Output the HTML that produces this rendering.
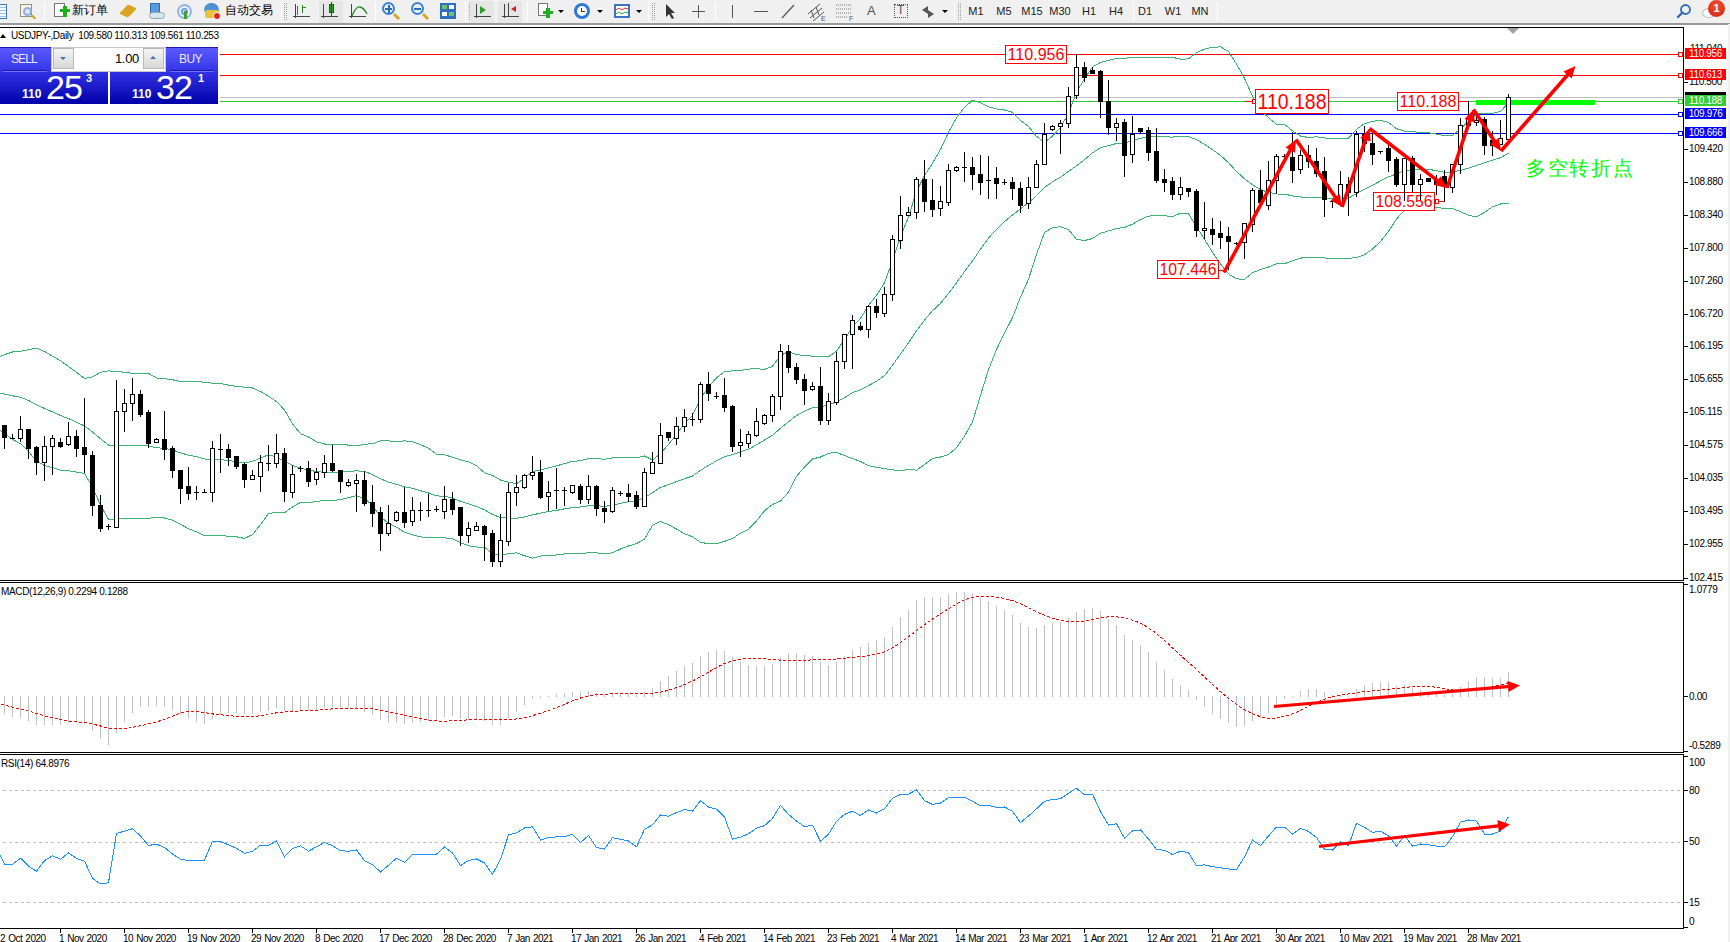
<!DOCTYPE html><html><head><meta charset="utf-8"><style>
*{margin:0;padding:0;box-sizing:border-box}
html,body{width:1730px;height:942px;overflow:hidden;background:#fff;font-family:"Liberation Sans",sans-serif}
.abs{position:absolute}
#tb{position:absolute;left:0;top:0;width:1730px;height:25px;background:#f0f0f0;border-bottom:2px solid #9a9a9a}
.tt{position:absolute;top:2px;font-size:12px;color:#000;white-space:nowrap}
.sep{position:absolute;top:2px;width:1px;height:19px;background:#b4b4b4;border-right:1px solid #fff}
.grip{position:absolute;top:3px;width:3px;height:17px;border-left:1px dotted #a0a0a0;border-right:1px dotted #a0a0a0}
.tf{position:absolute;top:5px;font-size:11px;color:#222;white-space:nowrap}
.ax{position:absolute;font-size:10px;color:#000;white-space:nowrap;line-height:11px;letter-spacing:-0.35px}
.plab{position:absolute;left:1685px;width:41px;height:11px;font-size:10px;line-height:11px;color:#fff;text-align:center;letter-spacing:-0.35px}
</style></head><body>

<div id="tb">
<div class="abs" style="left:0;top:4px;width:7px;height:15px;border:1px solid #3b74c4;border-left:none;background:repeating-linear-gradient(#fff 0 2px,#9cc0ee 2px 3px)"></div>
<div class="abs" style="left:20px;top:4px;width:12px;height:13px;border:1px solid #9a8f7a;background:#f6f3ee"></div><div class="abs" style="left:23px;top:7px;width:9px;height:9px;border:2px solid #8ab0e0;border-radius:50%;background:#dde8f4"></div><div class="abs" style="left:31px;top:16px;width:5px;height:2px;background:#c9a227;transform:rotate(45deg)"></div>
<div class="sep" style="left:44px"></div>
<div class="abs" style="left:54px;top:3px;width:11px;height:14px;border:1px solid #777;background:#fff"></div><div class="abs" style="left:60px;top:9px;width:10px;height:3px;background:#1fae1f"></div><div class="abs" style="left:63px;top:6px;width:4px;height:11px;background:#1fae1f"></div>
<div class="tt" style="left:72px">新订单</div>
<div class="abs" style="left:122px;top:6px;width:12px;height:10px;background:#d9a520;transform:skewX(-30deg) rotate(20deg);border-radius:2px"></div>
<div class="abs" style="left:150px;top:3px;width:10px;height:10px;background:#5a9be0;border:1px solid #2d6cb5"></div><div class="abs" style="left:149px;top:12px;width:16px;height:7px;background:#d8e4f0;border:1px solid #8aa;border-radius:4px"></div>
<div class="abs" style="left:177px;top:4px;width:15px;height:15px;border:2px solid #8fb6e8;border-radius:50%"></div><div class="abs" style="left:181px;top:8px;width:7px;height:7px;border:2px solid #6aa0dd;border-radius:50%"></div><div class="abs" style="left:184px;top:11px;width:3px;height:8px;background:#3aa03a"></div>
<div class="abs" style="left:204px;top:3px;width:15px;height:9px;background:#4d90d8;border-radius:7px 7px 2px 2px"></div><div class="abs" style="left:205px;top:10px;width:14px;height:8px;background:#e8c23a;border-radius:2px"></div><div class="abs" style="left:213px;top:12px;width:8px;height:8px;background:#e02020;border-radius:50%;border:1px solid #fff"></div>
<div class="tt" style="left:225px">自动交易</div>
<div class="sep" style="left:281px"></div><div class="grip" style="left:284px"></div>
<div class="abs" style="left:295px;top:4px;width:1px;height:14px;background:#444"></div><div class="abs" style="left:293px;top:16px;width:17px;height:1px;background:#444"></div>
<div class="abs" style="left:323px;top:4px;width:1px;height:14px;background:#444"></div><div class="abs" style="left:321px;top:16px;width:17px;height:1px;background:#444"></div>
<div class="abs" style="left:351px;top:4px;width:1px;height:14px;background:#444"></div><div class="abs" style="left:349px;top:16px;width:17px;height:1px;background:#444"></div>
<div class="abs" style="left:297px;top:6px;width:1px;height:9px;background:#2a8a2a"></div><div class="abs" style="left:302px;top:5px;width:1px;height:8px;background:#2a8a2a"></div><div class="abs" style="left:302px;top:7px;width:4px;height:1px;background:#2a8a2a"></div>
<div class="abs" style="left:319px;top:1px;width:24px;height:22px;background:#e6e6e6"></div><div class="abs" style="left:323px;top:4px;width:1px;height:14px;background:#444"></div><div class="abs" style="left:321px;top:16px;width:17px;height:1px;background:#444"></div><div class="abs" style="left:329px;top:4px;width:5px;height:9px;background:#2aa02a;border:1px solid #1a601a"></div><div class="abs" style="left:331px;top:2px;width:1px;height:14px;background:#1a601a"></div>
<svg class="abs" style="left:350px;top:3px" width="20" height="16"><path d="M2 13 Q6 3 10 4 T17 11" stroke="#2a8a2a" fill="none" stroke-width="1.3"/></svg>
<div class="sep" style="left:375px"></div>
<div class="abs" style="left:382px;top:2px;width:13px;height:13px;border:2px solid #3d82d0;border-radius:50%;background:#e8f2fc"></div><div class="abs" style="left:393px;top:15px;width:7px;height:3px;background:#d4a62a;transform:rotate(45deg)"></div><div class="abs" style="left:385px;top:8px;width:7px;height:2px;background:#2d6cb5"></div><div class="abs" style="left:388px;top:5px;width:2px;height:8px;background:#2d6cb5"></div>
<div class="abs" style="left:411px;top:2px;width:13px;height:13px;border:2px solid #3d82d0;border-radius:50%;background:#e8f2fc"></div><div class="abs" style="left:422px;top:15px;width:7px;height:3px;background:#d4a62a;transform:rotate(45deg)"></div><div class="abs" style="left:414px;top:8px;width:7px;height:2px;background:#2d6cb5"></div>
<div class="abs" style="left:440px;top:3px;width:16px;height:16px;background:#2e6ec0"></div><div class="abs" style="left:442px;top:5px;width:5px;height:4px;background:#6cc36c"></div><div class="abs" style="left:449px;top:5px;width:5px;height:4px;background:#fff"></div><div class="abs" style="left:442px;top:12px;width:5px;height:4px;background:#fff"></div><div class="abs" style="left:449px;top:12px;width:5px;height:4px;background:#6cc36c"></div>
<div class="sep" style="left:465px"></div><div class="grip" style="left:469px"></div>
<div class="abs" style="left:470px;top:1px;width:24px;height:22px;background:#e6e6e6"></div><div class="abs" style="left:476px;top:4px;width:1px;height:14px;background:#444"></div><div class="abs" style="left:474px;top:16px;width:17px;height:1px;background:#444"></div><div class="abs" style="left:480px;top:6px;width:0;height:0;border-left:6px solid #2aa02a;border-top:4px solid transparent;border-bottom:4px solid transparent"></div>
<div class="abs" style="left:498px;top:1px;width:24px;height:22px;background:#e6e6e6"></div><div class="abs" style="left:504px;top:4px;width:1px;height:14px;background:#444"></div><div class="abs" style="left:502px;top:16px;width:17px;height:1px;background:#444"></div><div class="abs" style="left:508px;top:3px;width:1px;height:14px;background:#444"></div><div class="abs" style="left:511px;top:6px;width:0;height:0;border-right:5px solid #d02020;border-top:3px solid transparent;border-bottom:3px solid transparent"></div>
<div class="sep" style="left:527px"></div>
<div class="abs" style="left:538px;top:3px;width:10px;height:13px;border:1px solid #777;background:#fff"></div><div class="abs" style="left:543px;top:11px;width:10px;height:3px;background:#1fae1f"></div><div class="abs" style="left:546px;top:8px;width:4px;height:10px;background:#1fae1f"></div>
<div class="abs" style="left:558px;top:10px;width:0;height:0;border-left:3px solid transparent;border-right:3px solid transparent;border-top:3px solid #000"></div>
<div class="abs" style="left:574px;top:3px;width:16px;height:16px;border-radius:50%;background:#2f78cf"></div><div class="abs" style="left:577px;top:6px;width:10px;height:10px;border-radius:50%;background:#fff"></div><div class="abs" style="left:581px;top:8px;width:1px;height:4px;background:#333"></div><div class="abs" style="left:581px;top:11px;width:4px;height:1px;background:#333"></div>
<div class="abs" style="left:597px;top:10px;width:0;height:0;border-left:3px solid transparent;border-right:3px solid transparent;border-top:3px solid #000"></div>
<div class="abs" style="left:614px;top:4px;width:16px;height:14px;border:2px solid #3d74c0;background:#fff"></div><svg class="abs" style="left:616px;top:6px" width="12" height="10"><path d="M0 4 L3 2 L6 4 L9 2 L12 3" stroke="#d03030" fill="none"/><path d="M0 8 L3 6 L6 8 L9 6 L12 7" stroke="#30a030" fill="none"/></svg>
<div class="abs" style="left:636px;top:10px;width:0;height:0;border-left:3px solid transparent;border-right:3px solid transparent;border-top:3px solid #000"></div>
<div class="sep" style="left:648px"></div><div class="grip" style="left:652px"></div>
<svg class="abs" style="left:663px;top:3px" width="14" height="17"><path d="M3 1 L3 14 L6 11 L9 16 L11 15 L8 10 L12 10 Z" fill="#333"/></svg>
<div class="abs" style="left:698px;top:5px;width:1px;height:13px;background:#555"></div><div class="abs" style="left:692px;top:11px;width:13px;height:1px;background:#555"></div>
<div class="sep" style="left:715px"></div>
<div class="abs" style="left:732px;top:5px;width:1px;height:13px;background:#555"></div>
<div class="abs" style="left:754px;top:11px;width:14px;height:1px;background:#555"></div>
<svg class="abs" style="left:780px;top:3px" width="16" height="17"><path d="M2 15 L14 2" stroke="#555" stroke-width="1.2"/></svg>
<svg class="abs" style="left:806px;top:2px" width="22" height="20"><path d="M2 12 L14 2 M4 16 L16 6 M7 19 L18 10 M5 8 L8 16 M10 5 L13 13" stroke="#555" fill="none"/><text x="15" y="19" font-size="7" fill="#555">E</text></svg>
<svg class="abs" style="left:834px;top:2px" width="22" height="20"><path d="M2 3 H18 M2 7 H18 M2 11 H18 M2 15 H14" stroke="#777" stroke-dasharray="1 1" fill="none"/><text x="15" y="19" font-size="7" fill="#555">F</text></svg>
<div class="tt" style="left:867px;top:3px;font-size:13px;color:#555">A</div>
<div class="abs" style="left:894px;top:4px;width:14px;height:14px;border:1px dotted #555"></div><div class="tt" style="left:897px;top:3px;font-size:12px;color:#555">T</div>
<svg class="abs" style="left:920px;top:4px" width="16" height="16"><path d="M2 6 L8 2 L8 10 Z M14 10 L8 14 L8 6 Z" fill="#555"/></svg>
<div class="abs" style="left:942px;top:10px;width:0;height:0;border-left:3px solid transparent;border-right:3px solid transparent;border-top:3px solid #000"></div>
<div class="sep" style="left:954px"></div><div class="grip" style="left:958px"></div>
<div class="tf" style="left:946px;width:60px;text-align:center">M1</div>
<div class="tf" style="left:974px;width:60px;text-align:center">M5</div>
<div class="tf" style="left:1002px;width:60px;text-align:center">M15</div>
<div class="tf" style="left:1030px;width:60px;text-align:center">M30</div>
<div class="tf" style="left:1059px;width:60px;text-align:center">H1</div>
<div class="tf" style="left:1086px;width:60px;text-align:center">H4</div>
<div class="tf" style="left:1115px;width:60px;text-align:center">D1</div>
<div class="tf" style="left:1143px;width:60px;text-align:center">W1</div>
<div class="tf" style="left:1170px;width:60px;text-align:center">MN</div>
<div class="sep" style="left:1133px"></div><div class="sep" style="left:1217px"></div>
<svg class="abs" style="left:1675px;top:2px" width="18" height="18"><circle cx="10.5" cy="7.5" r="4.5" fill="none" stroke="#2d6cb5" stroke-width="1.8"/><path d="M7.5 10.5 L3 15" stroke="#2d6cb5" stroke-width="2.4" stroke-linecap="round"/></svg>
<div class="abs" style="left:1702px;top:8px;width:14px;height:10px;background:#fff;border:1px solid #bbb;border-radius:50%"></div><div class="abs" style="left:1708px;top:0px;width:17px;height:17px;background:radial-gradient(circle at 50% 30%,#f05030,#d22010);border-radius:50%;color:#fff;font-size:11px;text-align:center;line-height:17px;font-weight:bold">1</div>
</div>
<svg class="abs" style="left:0;top:0" width="1730" height="942" shape-rendering="crispEdges">
<g stroke="#000" stroke-width="1" fill="none">
<path d="M0 27.5 H1683.5 V580.5 H0"/>
<path d="M0 582.5 H1683.5 V752.5 H0"/>
<path d="M0 754.5 H1683.5 V928.5 H0"/>
</g>
<rect x="1728" y="24" width="2" height="918" fill="#f0f0f0"/>
<rect x="1684" y="82" width="4" height="1" fill="#000"/>
<rect x="1684" y="149" width="4" height="1" fill="#000"/>
<rect x="1684" y="182" width="4" height="1" fill="#000"/>
<rect x="1684" y="215" width="4" height="1" fill="#000"/>
<rect x="1684" y="248" width="4" height="1" fill="#000"/>
<rect x="1684" y="281" width="4" height="1" fill="#000"/>
<rect x="1684" y="314" width="4" height="1" fill="#000"/>
<rect x="1684" y="346" width="4" height="1" fill="#000"/>
<rect x="1684" y="379" width="4" height="1" fill="#000"/>
<rect x="1684" y="412" width="4" height="1" fill="#000"/>
<rect x="1684" y="445" width="4" height="1" fill="#000"/>
<rect x="1684" y="478" width="4" height="1" fill="#000"/>
<rect x="1684" y="511" width="4" height="1" fill="#000"/>
<rect x="1684" y="544" width="4" height="1" fill="#000"/>
<rect x="1684" y="578" width="4" height="1" fill="#000"/>
</svg>
<div class="ax" style="left:1689px;top:76px">110.500</div>
<div class="ax" style="left:1689px;top:143px">109.420</div>
<div class="ax" style="left:1689px;top:176px">108.880</div>
<div class="ax" style="left:1689px;top:209px">108.340</div>
<div class="ax" style="left:1689px;top:242px">107.800</div>
<div class="ax" style="left:1689px;top:275px">107.260</div>
<div class="ax" style="left:1689px;top:308px">106.720</div>
<div class="ax" style="left:1689px;top:340px">106.195</div>
<div class="ax" style="left:1689px;top:373px">105.655</div>
<div class="ax" style="left:1689px;top:406px">105.115</div>
<div class="ax" style="left:1689px;top:439px">104.575</div>
<div class="ax" style="left:1689px;top:472px">104.035</div>
<div class="ax" style="left:1689px;top:505px">103.495</div>
<div class="ax" style="left:1689px;top:538px">102.955</div>
<div class="ax" style="left:1689px;top:572px">102.415</div>
<div class="ax" style="left:1690px;top:43px">111.040</div>
<svg class="abs" style="left:0;top:28px" width="1683" height="552" viewBox="0 28 1683 552" shape-rendering="crispEdges">
<rect x="0" y="54" width="1683" height="1" fill="#ff0000"/>
<rect x="0" y="75" width="1683" height="1" fill="#ff0000"/>
<rect x="0" y="97" width="1683" height="1" fill="#c0c0c0"/>
<rect x="0" y="101" width="1683" height="1" fill="#32cd32"/>
<rect x="0" y="114" width="1683" height="1" fill="#0000ff"/>
<rect x="0" y="133" width="1683" height="1" fill="#0000ff"/>
<polyline points="-3.5,357.6 4.5,354.7 12.5,352.0 20.5,351.3 28.5,349.6 36.5,348.1 44.5,351.5 52.5,356.1 60.5,360.8 68.5,366.5 76.5,372.3 84.5,378.6 92.5,376.9 100.5,372.3 108.5,370.9 116.5,371.5 124.5,372.3 132.5,373.3 140.5,373.4 148.5,373.5 156.5,378.0 164.5,378.7 172.5,379.8 180.5,381.5 188.5,381.6 196.5,381.4 204.5,382.3 212.5,383.2 220.5,383.4 228.5,385.2 236.5,386.3 244.5,387.2 252.5,388.0 260.5,391.5 268.5,396.1 276.5,401.6 284.5,409.9 292.5,423.8 300.5,433.7 308.5,437.0 316.5,441.8 324.5,444.0 332.5,444.0 340.5,444.3 348.5,445.1 356.5,445.9 364.5,444.2 372.5,443.8 380.5,440.8 388.5,440.8 396.5,441.7 404.5,440.8 412.5,441.7 420.5,444.7 428.5,448.1 436.5,454.3 444.5,454.7 452.5,457.3 460.5,459.9 468.5,461.7 476.5,465.8 484.5,472.7 492.5,475.5 500.5,480.0 508.5,482.1 516.5,483.8 524.5,478.1 532.5,471.5 540.5,470.0 548.5,467.8 556.5,465.8 564.5,463.7 572.5,461.4 580.5,460.7 588.5,458.7 596.5,458.6 604.5,459.3 612.5,457.9 620.5,457.6 628.5,457.4 636.5,457.8 644.5,456.0 652.5,460.0 660.5,453.5 668.5,444.5 676.5,434.2 684.5,423.7 692.5,415.3 700.5,398.6 708.5,387.1 716.5,377.8 724.5,371.8 732.5,370.8 740.5,370.4 748.5,369.1 756.5,368.7 764.5,369.4 772.5,366.3 780.5,355.5 788.5,351.5 796.5,354.6 804.5,355.6 812.5,356.1 820.5,356.6 828.5,356.8 836.5,351.0 844.5,339.7 852.5,326.7 860.5,318.4 868.5,305.4 876.5,295.4 884.5,282.8 892.5,260.9 900.5,237.0 908.5,216.7 916.5,191.4 924.5,175.6 932.5,163.1 940.5,149.5 948.5,132.3 956.5,117.9 964.5,107.2 972.5,100.3 980.5,102.8 988.5,106.8 996.5,108.9 1004.5,110.0 1012.5,112.3 1020.5,120.6 1028.5,126.5 1036.5,136.3 1044.5,142.5 1052.5,136.1 1060.5,127.6 1068.5,113.3 1076.5,92.3 1084.5,78.7 1092.5,67.1 1100.5,62.4 1108.5,60.4 1116.5,58.3 1124.5,58.3 1132.5,57.5 1140.5,57.1 1148.5,57.7 1156.5,57.9 1164.5,57.9 1172.5,57.3 1180.5,59.2 1188.5,58.9 1196.5,52.6 1204.5,49.2 1212.5,47.2 1220.5,46.9 1228.5,51.5 1236.5,64.1 1244.5,78.3 1252.5,96.5 1260.5,110.0 1268.5,117.7 1276.5,124.3 1284.5,124.4 1292.5,130.8 1300.5,136.0 1308.5,137.6 1316.5,136.8 1324.5,138.0 1332.5,138.4 1340.5,138.1 1348.5,138.2 1356.5,129.3 1364.5,123.6 1372.5,121.4 1380.5,120.3 1388.5,122.5 1396.5,128.7 1404.5,131.2 1412.5,131.4 1420.5,132.8 1428.5,132.8 1436.5,134.1 1444.5,135.6 1452.5,135.2 1460.5,129.0 1468.5,121.1 1476.5,114.2 1484.5,113.3 1492.5,113.3 1500.5,111.5 1508.5,102.7" fill="none" stroke="#3cb371" stroke-width="1" shape-rendering="crispEdges" />
<polyline points="-3.5,392.9 4.5,394.1 12.5,395.8 20.5,397.4 28.5,400.5 36.5,404.7 44.5,408.5 52.5,411.8 60.5,415.5 68.5,418.6 76.5,422.2 84.5,426.0 92.5,432.0 100.5,438.8 108.5,445.1 116.5,445.3 124.5,445.5 132.5,445.8 140.5,445.8 148.5,445.9 156.5,447.7 164.5,448.4 172.5,449.9 180.5,452.9 188.5,455.1 196.5,456.6 204.5,459.0 212.5,459.5 220.5,459.6 228.5,460.6 236.5,461.6 244.5,462.8 252.5,461.3 260.5,458.0 268.5,454.8 276.5,456.9 284.5,461.3 292.5,465.4 300.5,468.1 308.5,470.0 316.5,471.6 324.5,472.3 332.5,472.3 340.5,471.9 348.5,471.4 356.5,470.8 364.5,471.4 372.5,474.6 380.5,478.8 388.5,482.1 396.5,484.4 404.5,486.6 412.5,488.3 420.5,490.7 428.5,493.0 436.5,495.9 444.5,496.3 452.5,498.0 460.5,501.4 468.5,503.7 476.5,506.4 484.5,509.9 492.5,514.5 500.5,517.5 508.5,518.0 516.5,518.3 524.5,516.9 532.5,514.9 540.5,513.1 548.5,511.5 556.5,510.4 564.5,508.8 572.5,507.6 580.5,507.0 588.5,505.8 596.5,505.8 604.5,506.3 612.5,505.4 620.5,503.3 628.5,501.7 636.5,500.7 644.5,497.6 652.5,492.6 660.5,487.4 668.5,484.6 676.5,481.6 684.5,478.7 692.5,476.0 700.5,470.4 708.5,465.4 716.5,460.8 724.5,456.6 732.5,454.7 740.5,451.8 748.5,449.2 756.5,444.8 764.5,440.0 772.5,435.3 780.5,428.3 788.5,421.8 796.5,415.5 804.5,411.3 812.5,407.6 820.5,406.8 828.5,405.0 836.5,401.8 844.5,397.6 852.5,392.6 860.5,389.9 868.5,385.6 876.5,381.3 884.5,375.7 892.5,365.3 900.5,354.0 908.5,342.9 916.5,330.8 924.5,320.1 932.5,310.7 940.5,303.3 948.5,293.4 956.5,282.8 964.5,271.6 972.5,261.0 980.5,249.1 988.5,238.1 996.5,229.2 1004.5,221.6 1012.5,215.0 1020.5,208.8 1028.5,202.9 1036.5,195.5 1044.5,187.5 1052.5,181.8 1060.5,177.2 1068.5,171.4 1076.5,165.8 1084.5,159.6 1092.5,152.8 1100.5,147.8 1108.5,145.6 1116.5,143.5 1124.5,142.9 1132.5,140.9 1140.5,138.3 1148.5,136.9 1156.5,136.8 1164.5,136.8 1172.5,137.1 1180.5,136.1 1188.5,136.4 1196.5,139.7 1204.5,144.4 1212.5,149.7 1220.5,155.4 1228.5,162.7 1236.5,171.5 1244.5,178.8 1252.5,184.7 1260.5,189.7 1268.5,192.3 1276.5,194.0 1284.5,194.1 1292.5,195.9 1300.5,197.0 1308.5,197.5 1316.5,197.1 1324.5,198.0 1332.5,198.3 1340.5,198.2 1348.5,198.2 1356.5,193.5 1364.5,189.2 1372.5,185.2 1380.5,180.9 1388.5,176.9 1396.5,173.9 1404.5,170.7 1412.5,170.3 1420.5,169.2 1428.5,169.3 1436.5,170.7 1444.5,172.2 1452.5,171.9 1460.5,170.3 1468.5,168.2 1476.5,165.6 1484.5,162.8 1492.5,160.1 1500.5,157.7 1508.5,153.0" fill="none" stroke="#3cb371" stroke-width="1" shape-rendering="crispEdges" />
<polyline points="-3.5,428.2 4.5,433.5 12.5,439.5 20.5,443.6 28.5,451.4 36.5,461.2 44.5,465.5 52.5,467.6 60.5,470.3 68.5,470.7 76.5,472.1 84.5,473.4 92.5,487.2 100.5,505.2 108.5,519.3 116.5,519.1 124.5,518.7 132.5,518.3 140.5,518.2 148.5,518.3 156.5,517.5 164.5,518.0 172.5,520.1 180.5,524.3 188.5,528.7 196.5,531.9 204.5,535.6 212.5,535.7 220.5,535.8 228.5,536.1 236.5,536.8 244.5,538.4 252.5,534.6 260.5,524.5 268.5,513.6 276.5,512.3 284.5,512.8 292.5,506.9 300.5,502.4 308.5,502.9 316.5,501.4 324.5,500.6 332.5,500.6 340.5,499.6 348.5,497.7 356.5,495.7 364.5,498.5 372.5,505.4 380.5,516.8 388.5,523.4 396.5,527.1 404.5,532.3 412.5,534.9 420.5,536.7 428.5,538.0 436.5,537.4 444.5,537.8 452.5,538.7 460.5,542.8 468.5,545.7 476.5,547.0 484.5,547.2 492.5,553.5 500.5,554.9 508.5,553.8 516.5,552.8 524.5,555.7 532.5,558.2 540.5,556.1 548.5,555.2 556.5,555.0 564.5,553.9 572.5,553.7 580.5,553.3 588.5,552.9 596.5,552.9 604.5,553.4 612.5,552.9 620.5,549.0 628.5,546.0 636.5,543.6 644.5,539.2 652.5,525.3 660.5,521.3 668.5,524.8 676.5,529.0 684.5,533.7 692.5,536.8 700.5,542.2 708.5,543.8 716.5,543.7 724.5,541.4 732.5,538.5 740.5,533.2 748.5,529.3 756.5,521.0 764.5,510.7 772.5,504.4 780.5,501.0 788.5,492.1 796.5,476.3 804.5,467.1 812.5,459.0 820.5,457.0 828.5,453.2 836.5,452.5 844.5,455.5 852.5,458.6 860.5,461.4 868.5,465.7 876.5,467.3 884.5,468.6 892.5,469.8 900.5,471.0 908.5,469.1 916.5,470.2 924.5,464.6 932.5,458.4 940.5,457.0 948.5,454.5 956.5,447.7 964.5,436.1 972.5,421.8 980.5,395.5 988.5,369.4 996.5,349.5 1004.5,333.2 1012.5,317.7 1020.5,297.0 1028.5,279.2 1036.5,254.6 1044.5,232.4 1052.5,227.5 1060.5,226.8 1068.5,229.5 1076.5,239.3 1084.5,240.5 1092.5,238.5 1100.5,233.2 1108.5,230.9 1116.5,228.6 1124.5,227.4 1132.5,224.2 1140.5,219.5 1148.5,216.1 1156.5,215.6 1164.5,215.6 1172.5,216.8 1180.5,213.1 1188.5,213.8 1196.5,226.7 1204.5,239.5 1212.5,252.3 1220.5,264.0 1228.5,273.9 1236.5,278.9 1244.5,279.3 1252.5,272.8 1260.5,269.4 1268.5,267.0 1276.5,263.7 1284.5,263.7 1292.5,260.9 1300.5,258.1 1308.5,257.4 1316.5,257.5 1324.5,258.0 1332.5,258.3 1340.5,258.3 1348.5,258.3 1356.5,257.6 1364.5,254.8 1372.5,249.0 1380.5,241.5 1388.5,231.2 1396.5,219.1 1404.5,210.1 1412.5,209.3 1420.5,205.6 1428.5,205.7 1436.5,207.2 1444.5,208.7 1452.5,208.5 1460.5,211.7 1468.5,215.3 1476.5,216.9 1484.5,212.4 1492.5,206.8 1500.5,204.0 1508.5,203.3" fill="none" stroke="#3cb371" stroke-width="1" shape-rendering="crispEdges" />
</svg>
<svg class="abs" style="left:0;top:583px" width="1683" height="169" viewBox="0 583 1683 169" shape-rendering="crispEdges">
<rect x="4" y="696" width="1" height="18" fill="#c0c0c0"/>
<rect x="12" y="696" width="1" height="21" fill="#c0c0c0"/>
<rect x="20" y="696" width="1" height="22" fill="#c0c0c0"/>
<rect x="28" y="696" width="1" height="25" fill="#c0c0c0"/>
<rect x="36" y="696" width="1" height="29" fill="#c0c0c0"/>
<rect x="44" y="696" width="1" height="29" fill="#c0c0c0"/>
<rect x="52" y="696" width="1" height="29" fill="#c0c0c0"/>
<rect x="60" y="696" width="1" height="29" fill="#c0c0c0"/>
<rect x="68" y="696" width="1" height="27" fill="#c0c0c0"/>
<rect x="76" y="696" width="1" height="27" fill="#c0c0c0"/>
<rect x="84" y="696" width="1" height="28" fill="#c0c0c0"/>
<rect x="92" y="696" width="1" height="35" fill="#c0c0c0"/>
<rect x="100" y="696" width="1" height="43" fill="#c0c0c0"/>
<rect x="108" y="696" width="1" height="49" fill="#c0c0c0"/>
<rect x="116" y="696" width="1" height="37" fill="#c0c0c0"/>
<rect x="124" y="696" width="1" height="26" fill="#c0c0c0"/>
<rect x="132" y="696" width="1" height="17" fill="#c0c0c0"/>
<rect x="140" y="696" width="1" height="11" fill="#c0c0c0"/>
<rect x="148" y="696" width="1" height="11" fill="#c0c0c0"/>
<rect x="156" y="696" width="1" height="10" fill="#c0c0c0"/>
<rect x="164" y="696" width="1" height="11" fill="#c0c0c0"/>
<rect x="172" y="696" width="1" height="14" fill="#c0c0c0"/>
<rect x="180" y="696" width="1" height="19" fill="#c0c0c0"/>
<rect x="188" y="696" width="1" height="23" fill="#c0c0c0"/>
<rect x="196" y="696" width="1" height="26" fill="#c0c0c0"/>
<rect x="204" y="696" width="1" height="28" fill="#c0c0c0"/>
<rect x="212" y="696" width="1" height="23" fill="#c0c0c0"/>
<rect x="220" y="696" width="1" height="19" fill="#c0c0c0"/>
<rect x="228" y="696" width="1" height="17" fill="#c0c0c0"/>
<rect x="236" y="696" width="1" height="17" fill="#c0c0c0"/>
<rect x="244" y="696" width="1" height="18" fill="#c0c0c0"/>
<rect x="252" y="696" width="1" height="18" fill="#c0c0c0"/>
<rect x="260" y="696" width="1" height="16" fill="#c0c0c0"/>
<rect x="268" y="696" width="1" height="15" fill="#c0c0c0"/>
<rect x="276" y="696" width="1" height="12" fill="#c0c0c0"/>
<rect x="284" y="696" width="1" height="15" fill="#c0c0c0"/>
<rect x="292" y="696" width="1" height="15" fill="#c0c0c0"/>
<rect x="300" y="696" width="1" height="14" fill="#c0c0c0"/>
<rect x="308" y="696" width="1" height="14" fill="#c0c0c0"/>
<rect x="316" y="696" width="1" height="14" fill="#c0c0c0"/>
<rect x="324" y="696" width="1" height="12" fill="#c0c0c0"/>
<rect x="332" y="696" width="1" height="11" fill="#c0c0c0"/>
<rect x="340" y="696" width="1" height="12" fill="#c0c0c0"/>
<rect x="348" y="696" width="1" height="12" fill="#c0c0c0"/>
<rect x="356" y="696" width="1" height="12" fill="#c0c0c0"/>
<rect x="364" y="696" width="1" height="16" fill="#c0c0c0"/>
<rect x="372" y="696" width="1" height="19" fill="#c0c0c0"/>
<rect x="380" y="696" width="1" height="24" fill="#c0c0c0"/>
<rect x="388" y="696" width="1" height="27" fill="#c0c0c0"/>
<rect x="396" y="696" width="1" height="27" fill="#c0c0c0"/>
<rect x="404" y="696" width="1" height="28" fill="#c0c0c0"/>
<rect x="412" y="696" width="1" height="27" fill="#c0c0c0"/>
<rect x="420" y="696" width="1" height="26" fill="#c0c0c0"/>
<rect x="428" y="696" width="1" height="25" fill="#c0c0c0"/>
<rect x="436" y="696" width="1" height="24" fill="#c0c0c0"/>
<rect x="444" y="696" width="1" height="21" fill="#c0c0c0"/>
<rect x="452" y="696" width="1" height="20" fill="#c0c0c0"/>
<rect x="460" y="696" width="1" height="23" fill="#c0c0c0"/>
<rect x="468" y="696" width="1" height="24" fill="#c0c0c0"/>
<rect x="476" y="696" width="1" height="24" fill="#c0c0c0"/>
<rect x="484" y="696" width="1" height="25" fill="#c0c0c0"/>
<rect x="492" y="696" width="1" height="29" fill="#c0c0c0"/>
<rect x="500" y="696" width="1" height="29" fill="#c0c0c0"/>
<rect x="508" y="696" width="1" height="22" fill="#c0c0c0"/>
<rect x="516" y="696" width="1" height="16" fill="#c0c0c0"/>
<rect x="524" y="696" width="1" height="9" fill="#c0c0c0"/>
<rect x="532" y="696" width="1" height="3" fill="#c0c0c0"/>
<rect x="540" y="696" width="1" height="2" fill="#c0c0c0"/>
<rect x="548" y="696" width="1" height="1" fill="#c0c0c0"/>
<rect x="556" y="694" width="1" height="3" fill="#c0c0c0"/>
<rect x="564" y="693" width="1" height="4" fill="#c0c0c0"/>
<rect x="572" y="692" width="1" height="5" fill="#c0c0c0"/>
<rect x="580" y="692" width="1" height="5" fill="#c0c0c0"/>
<rect x="588" y="691" width="1" height="6" fill="#c0c0c0"/>
<rect x="596" y="693" width="1" height="4" fill="#c0c0c0"/>
<rect x="604" y="695" width="1" height="2" fill="#c0c0c0"/>
<rect x="612" y="694" width="1" height="3" fill="#c0c0c0"/>
<rect x="620" y="694" width="1" height="3" fill="#c0c0c0"/>
<rect x="628" y="694" width="1" height="3" fill="#c0c0c0"/>
<rect x="636" y="695" width="1" height="2" fill="#c0c0c0"/>
<rect x="644" y="692" width="1" height="5" fill="#c0c0c0"/>
<rect x="652" y="688" width="1" height="9" fill="#c0c0c0"/>
<rect x="660" y="681" width="1" height="16" fill="#c0c0c0"/>
<rect x="668" y="676" width="1" height="21" fill="#c0c0c0"/>
<rect x="676" y="671" width="1" height="26" fill="#c0c0c0"/>
<rect x="684" y="666" width="1" height="31" fill="#c0c0c0"/>
<rect x="692" y="663" width="1" height="34" fill="#c0c0c0"/>
<rect x="700" y="656" width="1" height="41" fill="#c0c0c0"/>
<rect x="708" y="652" width="1" height="45" fill="#c0c0c0"/>
<rect x="716" y="650" width="1" height="47" fill="#c0c0c0"/>
<rect x="724" y="651" width="1" height="46" fill="#c0c0c0"/>
<rect x="732" y="657" width="1" height="40" fill="#c0c0c0"/>
<rect x="740" y="662" width="1" height="35" fill="#c0c0c0"/>
<rect x="748" y="665" width="1" height="32" fill="#c0c0c0"/>
<rect x="756" y="666" width="1" height="31" fill="#c0c0c0"/>
<rect x="764" y="666" width="1" height="31" fill="#c0c0c0"/>
<rect x="772" y="664" width="1" height="33" fill="#c0c0c0"/>
<rect x="780" y="657" width="1" height="40" fill="#c0c0c0"/>
<rect x="788" y="653" width="1" height="44" fill="#c0c0c0"/>
<rect x="796" y="653" width="1" height="44" fill="#c0c0c0"/>
<rect x="804" y="655" width="1" height="42" fill="#c0c0c0"/>
<rect x="812" y="656" width="1" height="41" fill="#c0c0c0"/>
<rect x="820" y="662" width="1" height="35" fill="#c0c0c0"/>
<rect x="828" y="665" width="1" height="32" fill="#c0c0c0"/>
<rect x="836" y="662" width="1" height="35" fill="#c0c0c0"/>
<rect x="844" y="656" width="1" height="41" fill="#c0c0c0"/>
<rect x="852" y="650" width="1" height="47" fill="#c0c0c0"/>
<rect x="860" y="647" width="1" height="50" fill="#c0c0c0"/>
<rect x="868" y="643" width="1" height="54" fill="#c0c0c0"/>
<rect x="876" y="640" width="1" height="57" fill="#c0c0c0"/>
<rect x="884" y="637" width="1" height="60" fill="#c0c0c0"/>
<rect x="892" y="627" width="1" height="70" fill="#c0c0c0"/>
<rect x="900" y="617" width="1" height="80" fill="#c0c0c0"/>
<rect x="908" y="610" width="1" height="87" fill="#c0c0c0"/>
<rect x="916" y="600" width="1" height="97" fill="#c0c0c0"/>
<rect x="924" y="597" width="1" height="100" fill="#c0c0c0"/>
<rect x="932" y="597" width="1" height="100" fill="#c0c0c0"/>
<rect x="940" y="597" width="1" height="100" fill="#c0c0c0"/>
<rect x="948" y="594" width="1" height="103" fill="#c0c0c0"/>
<rect x="956" y="592" width="1" height="105" fill="#c0c0c0"/>
<rect x="964" y="592" width="1" height="105" fill="#c0c0c0"/>
<rect x="972" y="594" width="1" height="103" fill="#c0c0c0"/>
<rect x="980" y="597" width="1" height="100" fill="#c0c0c0"/>
<rect x="988" y="601" width="1" height="96" fill="#c0c0c0"/>
<rect x="996" y="606" width="1" height="91" fill="#c0c0c0"/>
<rect x="1004" y="610" width="1" height="87" fill="#c0c0c0"/>
<rect x="1012" y="615" width="1" height="82" fill="#c0c0c0"/>
<rect x="1020" y="623" width="1" height="74" fill="#c0c0c0"/>
<rect x="1028" y="627" width="1" height="70" fill="#c0c0c0"/>
<rect x="1036" y="628" width="1" height="69" fill="#c0c0c0"/>
<rect x="1044" y="625" width="1" height="72" fill="#c0c0c0"/>
<rect x="1052" y="623" width="1" height="74" fill="#c0c0c0"/>
<rect x="1060" y="622" width="1" height="75" fill="#c0c0c0"/>
<rect x="1068" y="618" width="1" height="79" fill="#c0c0c0"/>
<rect x="1076" y="612" width="1" height="85" fill="#c0c0c0"/>
<rect x="1084" y="609" width="1" height="88" fill="#c0c0c0"/>
<rect x="1092" y="608" width="1" height="89" fill="#c0c0c0"/>
<rect x="1100" y="611" width="1" height="86" fill="#c0c0c0"/>
<rect x="1108" y="619" width="1" height="78" fill="#c0c0c0"/>
<rect x="1116" y="625" width="1" height="72" fill="#c0c0c0"/>
<rect x="1124" y="635" width="1" height="62" fill="#c0c0c0"/>
<rect x="1132" y="640" width="1" height="57" fill="#c0c0c0"/>
<rect x="1140" y="645" width="1" height="52" fill="#c0c0c0"/>
<rect x="1148" y="652" width="1" height="45" fill="#c0c0c0"/>
<rect x="1156" y="662" width="1" height="35" fill="#c0c0c0"/>
<rect x="1164" y="670" width="1" height="27" fill="#c0c0c0"/>
<rect x="1172" y="679" width="1" height="18" fill="#c0c0c0"/>
<rect x="1180" y="685" width="1" height="12" fill="#c0c0c0"/>
<rect x="1188" y="690" width="1" height="7" fill="#c0c0c0"/>
<rect x="1196" y="696" width="1" height="4" fill="#c0c0c0"/>
<rect x="1204" y="696" width="1" height="11" fill="#c0c0c0"/>
<rect x="1212" y="696" width="1" height="18" fill="#c0c0c0"/>
<rect x="1220" y="696" width="1" height="23" fill="#c0c0c0"/>
<rect x="1228" y="696" width="1" height="27" fill="#c0c0c0"/>
<rect x="1236" y="696" width="1" height="31" fill="#c0c0c0"/>
<rect x="1244" y="696" width="1" height="30" fill="#c0c0c0"/>
<rect x="1252" y="696" width="1" height="25" fill="#c0c0c0"/>
<rect x="1260" y="696" width="1" height="22" fill="#c0c0c0"/>
<rect x="1268" y="696" width="1" height="17" fill="#c0c0c0"/>
<rect x="1276" y="696" width="1" height="9" fill="#c0c0c0"/>
<rect x="1284" y="696" width="1" height="3" fill="#c0c0c0"/>
<rect x="1292" y="696" width="1" height="1" fill="#c0c0c0"/>
<rect x="1300" y="691" width="1" height="6" fill="#c0c0c0"/>
<rect x="1308" y="689" width="1" height="8" fill="#c0c0c0"/>
<rect x="1316" y="689" width="1" height="8" fill="#c0c0c0"/>
<rect x="1324" y="692" width="1" height="5" fill="#c0c0c0"/>
<rect x="1332" y="695" width="1" height="2" fill="#c0c0c0"/>
<rect x="1340" y="695" width="1" height="2" fill="#c0c0c0"/>
<rect x="1348" y="696" width="1" height="1" fill="#c0c0c0"/>
<rect x="1356" y="689" width="1" height="8" fill="#c0c0c0"/>
<rect x="1364" y="685" width="1" height="12" fill="#c0c0c0"/>
<rect x="1372" y="683" width="1" height="14" fill="#c0c0c0"/>
<rect x="1380" y="682" width="1" height="15" fill="#c0c0c0"/>
<rect x="1388" y="682" width="1" height="15" fill="#c0c0c0"/>
<rect x="1396" y="686" width="1" height="11" fill="#c0c0c0"/>
<rect x="1404" y="685" width="1" height="12" fill="#c0c0c0"/>
<rect x="1412" y="688" width="1" height="9" fill="#c0c0c0"/>
<rect x="1420" y="690" width="1" height="7" fill="#c0c0c0"/>
<rect x="1428" y="692" width="1" height="5" fill="#c0c0c0"/>
<rect x="1436" y="694" width="1" height="3" fill="#c0c0c0"/>
<rect x="1444" y="695" width="1" height="2" fill="#c0c0c0"/>
<rect x="1452" y="694" width="1" height="3" fill="#c0c0c0"/>
<rect x="1460" y="687" width="1" height="10" fill="#c0c0c0"/>
<rect x="1468" y="681" width="1" height="16" fill="#c0c0c0"/>
<rect x="1476" y="677" width="1" height="20" fill="#c0c0c0"/>
<rect x="1484" y="677" width="1" height="20" fill="#c0c0c0"/>
<rect x="1492" y="678" width="1" height="19" fill="#c0c0c0"/>
<rect x="1500" y="678" width="1" height="19" fill="#c0c0c0"/>
<rect x="1508" y="672" width="1" height="25" fill="#c0c0c0"/>
<polyline points="-3.5,703.3 4.5,705.2 12.5,707.2 20.5,709.1 28.5,711.1 36.5,713.4 44.5,715.9 52.5,718.0 60.5,719.5 68.5,720.9 76.5,721.9 84.5,722.6 92.5,724.0 100.5,726.0 108.5,728.2 116.5,729.0 124.5,728.8 132.5,727.4 140.5,725.7 148.5,723.9 156.5,722.0 164.5,719.4 172.5,716.2 180.5,712.9 188.5,711.3 196.5,711.3 204.5,712.5 212.5,713.9 220.5,714.8 228.5,715.6 236.5,716.3 244.5,716.7 252.5,716.6 260.5,715.8 268.5,714.6 276.5,712.8 284.5,711.9 292.5,711.3 300.5,710.9 308.5,710.7 316.5,710.2 324.5,709.5 332.5,708.9 340.5,708.6 348.5,708.6 356.5,708.3 364.5,708.4 372.5,709.0 380.5,710.1 388.5,711.6 396.5,713.4 404.5,715.3 412.5,717.1 420.5,718.6 428.5,720.0 436.5,721.0 444.5,721.2 452.5,720.7 460.5,720.3 468.5,719.9 476.5,719.4 484.5,719.1 492.5,719.4 500.5,719.8 508.5,719.6 516.5,719.0 524.5,717.7 532.5,715.6 540.5,713.2 548.5,710.6 556.5,707.8 564.5,704.4 572.5,700.8 580.5,698.0 588.5,695.9 596.5,694.6 604.5,694.3 612.5,693.9 620.5,693.7 628.5,693.7 636.5,693.9 644.5,693.9 652.5,693.4 660.5,692.2 668.5,690.3 676.5,687.6 684.5,684.5 692.5,681.1 700.5,676.9 708.5,672.2 716.5,667.6 724.5,663.5 732.5,660.8 740.5,659.2 748.5,658.5 756.5,658.4 764.5,658.7 772.5,659.6 780.5,660.1 788.5,660.4 796.5,660.7 804.5,660.4 812.5,659.8 820.5,659.6 828.5,659.5 836.5,659.0 844.5,658.1 852.5,657.4 860.5,656.7 868.5,655.6 876.5,653.9 884.5,651.8 892.5,647.8 900.5,642.5 908.5,636.7 916.5,630.6 924.5,624.7 932.5,619.1 940.5,614.0 948.5,608.8 956.5,603.9 964.5,599.9 972.5,597.4 980.5,596.0 988.5,596.1 996.5,597.1 1004.5,598.5 1012.5,600.6 1020.5,603.9 1028.5,607.8 1036.5,611.8 1044.5,615.3 1052.5,618.1 1060.5,620.4 1068.5,621.7 1076.5,621.9 1084.5,621.2 1092.5,619.5 1100.5,617.8 1108.5,616.8 1116.5,616.8 1124.5,618.1 1132.5,620.1 1140.5,623.2 1148.5,627.7 1156.5,633.5 1164.5,640.4 1172.5,647.9 1180.5,655.2 1188.5,662.5 1196.5,669.6 1204.5,677.0 1212.5,684.5 1220.5,691.8 1228.5,698.5 1236.5,704.6 1244.5,709.8 1252.5,713.7 1260.5,716.8 1268.5,718.2 1276.5,718.0 1284.5,716.4 1292.5,713.9 1300.5,710.4 1308.5,706.4 1316.5,702.3 1324.5,699.2 1332.5,696.7 1340.5,694.8 1348.5,693.9 1356.5,692.9 1364.5,691.7 1372.5,690.8 1380.5,690.0 1388.5,689.3 1396.5,688.6 1404.5,687.5 1412.5,686.7 1420.5,686.0 1428.5,686.3 1436.5,687.3 1444.5,688.6 1452.5,690.0 1460.5,690.5 1468.5,690.1 1476.5,689.2 1484.5,688.0 1492.5,686.7 1500.5,685.1 1508.5,682.7" fill="none" stroke="#ff0000" stroke-width="1" shape-rendering="crispEdges" stroke-dasharray="3 2"/>
</svg>
<div class="ax" style="left:1689px;top:584px">1.0779</div>
<div class="ax" style="left:1689px;top:691px">0.00</div>
<div class="ax" style="left:1689px;top:740px">-0.5289</div>
<svg class="abs" style="left:1684px;top:580px" width="6" height="350" shape-rendering="crispEdges">
<rect x="0" y="4" width="4" height="1" fill="#000"/>
<rect x="0" y="116" width="4" height="1" fill="#000"/>
<rect x="0" y="171" width="4" height="1" fill="#000"/>
<rect x="0" y="176" width="4" height="1" fill="#000"/>
<rect x="0" y="210" width="4" height="1" fill="#000"/>
<rect x="0" y="261" width="4" height="1" fill="#000"/>
<rect x="0" y="322" width="4" height="1" fill="#000"/>
<rect x="0" y="347" width="4" height="1" fill="#000"/>
</svg>
<svg class="abs" style="left:0;top:755px" width="1683" height="173" viewBox="0 755 1683 173">
<line x1="3" y1="790.5" x2="1683" y2="790.5" stroke="#c0c0c0" stroke-dasharray="3 3" shape-rendering="crispEdges"/>
<line x1="3" y1="842.5" x2="1683" y2="842.5" stroke="#c0c0c0" stroke-dasharray="3 3" shape-rendering="crispEdges"/>
<line x1="3" y1="902.5" x2="1683" y2="902.5" stroke="#c0c0c0" stroke-dasharray="3 3" shape-rendering="crispEdges"/>
<polyline points="-3.5,848.1 4.5,864.0 12.5,864.4 20.5,858.2 28.5,866.2 36.5,871.3 44.5,860.7 52.5,855.7 60.5,859.3 68.5,852.9 76.5,858.5 84.5,861.1 92.5,878.4 100.5,884.0 108.5,882.7 116.5,833.4 124.5,831.2 132.5,828.7 140.5,836.0 148.5,845.5 156.5,844.2 164.5,847.5 172.5,854.0 180.5,859.2 188.5,860.6 196.5,860.1 204.5,860.1 212.5,841.2 220.5,841.6 228.5,844.8 236.5,848.3 244.5,853.3 252.5,851.3 260.5,845.1 268.5,845.5 276.5,840.6 284.5,856.8 292.5,848.5 300.5,845.8 308.5,851.2 316.5,846.7 324.5,842.4 332.5,845.7 340.5,850.8 348.5,851.2 356.5,850.0 364.5,860.6 372.5,864.7 380.5,871.9 388.5,865.2 396.5,858.2 404.5,862.4 412.5,854.8 420.5,854.8 428.5,854.8 436.5,854.1 444.5,847.0 452.5,852.9 460.5,865.7 468.5,860.5 476.5,859.0 484.5,863.0 492.5,874.3 500.5,859.4 508.5,834.9 516.5,832.8 524.5,828.0 532.5,826.8 540.5,840.0 548.5,837.7 556.5,836.8 564.5,836.8 572.5,834.2 580.5,842.6 588.5,835.5 596.5,847.5 604.5,849.0 612.5,837.6 620.5,839.3 628.5,841.0 636.5,846.8 644.5,829.2 652.5,824.9 660.5,815.0 668.5,816.3 676.5,812.5 684.5,809.6 692.5,811.1 700.5,800.7 708.5,807.0 716.5,809.2 724.5,816.9 732.5,839.1 740.5,837.3 748.5,833.7 756.5,828.2 764.5,825.7 772.5,818.4 780.5,805.3 788.5,814.5 796.5,821.0 804.5,826.7 812.5,825.2 820.5,841.5 828.5,834.1 836.5,821.3 844.5,814.4 852.5,811.2 860.5,815.5 868.5,810.0 876.5,813.0 884.5,808.7 892.5,798.2 900.5,794.6 908.5,794.2 916.5,789.7 924.5,800.6 932.5,804.5 940.5,803.0 948.5,797.6 956.5,797.1 964.5,797.1 972.5,801.2 980.5,805.9 988.5,805.4 996.5,807.3 1004.5,807.0 1012.5,811.2 1020.5,822.5 1028.5,816.0 1036.5,808.8 1044.5,801.3 1052.5,799.5 1060.5,798.8 1068.5,793.2 1076.5,788.3 1084.5,794.9 1092.5,794.1 1100.5,811.6 1108.5,825.0 1116.5,823.7 1124.5,838.2 1132.5,830.9 1140.5,829.9 1148.5,839.0 1156.5,849.5 1164.5,850.2 1172.5,854.5 1180.5,851.2 1188.5,852.7 1196.5,865.8 1204.5,864.8 1212.5,866.7 1220.5,867.7 1228.5,869.0 1236.5,869.7 1244.5,856.9 1252.5,840.1 1260.5,845.5 1268.5,835.9 1276.5,827.0 1284.5,827.0 1292.5,834.1 1300.5,828.3 1308.5,831.4 1316.5,837.5 1324.5,849.2 1332.5,850.1 1340.5,841.8 1348.5,845.5 1356.5,823.2 1364.5,827.4 1372.5,832.4 1380.5,831.3 1388.5,835.7 1396.5,846.2 1404.5,835.7 1412.5,846.1 1420.5,844.0 1428.5,844.8 1436.5,846.1 1444.5,847.0 1452.5,836.6 1460.5,822.2 1468.5,820.0 1476.5,821.1 1484.5,834.0 1492.5,834.0 1500.5,831.1 1508.5,816.7" fill="none" stroke="#1e90ff" stroke-width="1" shape-rendering="crispEdges" />
</svg>
<div class="ax" style="left:1689px;top:757px">100</div>
<div class="ax" style="left:1689px;top:785px">80</div>
<div class="ax" style="left:1689px;top:836px">50</div>
<div class="ax" style="left:1689px;top:897px">15</div>
<div class="ax" style="left:1689px;top:916px">0</div>
<svg class="abs" style="left:0;top:928px" width="1683" height="6" shape-rendering="crispEdges">
<rect x="60" y="1" width="1" height="4" fill="#000"/>
<rect x="124" y="1" width="1" height="4" fill="#000"/>
<rect x="188" y="1" width="1" height="4" fill="#000"/>
<rect x="252" y="1" width="1" height="4" fill="#000"/>
<rect x="316" y="1" width="1" height="4" fill="#000"/>
<rect x="380" y="1" width="1" height="4" fill="#000"/>
<rect x="444" y="1" width="1" height="4" fill="#000"/>
<rect x="508" y="1" width="1" height="4" fill="#000"/>
<rect x="572" y="1" width="1" height="4" fill="#000"/>
<rect x="636" y="1" width="1" height="4" fill="#000"/>
<rect x="700" y="1" width="1" height="4" fill="#000"/>
<rect x="764" y="1" width="1" height="4" fill="#000"/>
<rect x="828" y="1" width="1" height="4" fill="#000"/>
<rect x="892" y="1" width="1" height="4" fill="#000"/>
<rect x="956" y="1" width="1" height="4" fill="#000"/>
<rect x="1020" y="1" width="1" height="4" fill="#000"/>
<rect x="1084" y="1" width="1" height="4" fill="#000"/>
<rect x="1148" y="1" width="1" height="4" fill="#000"/>
<rect x="1212" y="1" width="1" height="4" fill="#000"/>
<rect x="1276" y="1" width="1" height="4" fill="#000"/>
<rect x="1340" y="1" width="1" height="4" fill="#000"/>
<rect x="1404" y="1" width="1" height="4" fill="#000"/>
<rect x="1468" y="1" width="1" height="4" fill="#000"/>
</svg>
<div class="ax" style="left:0px;top:933px;letter-spacing:-0.55px;word-spacing:1px">2 Oct 2020</div>
<div class="ax" style="left:59px;top:933px;letter-spacing:-0.55px;word-spacing:1px">1 Nov 2020</div>
<div class="ax" style="left:123px;top:933px;letter-spacing:-0.55px;word-spacing:1px">10 Nov 2020</div>
<div class="ax" style="left:187px;top:933px;letter-spacing:-0.55px;word-spacing:1px">19 Nov 2020</div>
<div class="ax" style="left:251px;top:933px;letter-spacing:-0.55px;word-spacing:1px">29 Nov 2020</div>
<div class="ax" style="left:315px;top:933px;letter-spacing:-0.55px;word-spacing:1px">8 Dec 2020</div>
<div class="ax" style="left:379px;top:933px;letter-spacing:-0.55px;word-spacing:1px">17 Dec 2020</div>
<div class="ax" style="left:443px;top:933px;letter-spacing:-0.55px;word-spacing:1px">28 Dec 2020</div>
<div class="ax" style="left:507px;top:933px;letter-spacing:-0.55px;word-spacing:1px">7 Jan 2021</div>
<div class="ax" style="left:571px;top:933px;letter-spacing:-0.55px;word-spacing:1px">17 Jan 2021</div>
<div class="ax" style="left:635px;top:933px;letter-spacing:-0.55px;word-spacing:1px">26 Jan 2021</div>
<div class="ax" style="left:699px;top:933px;letter-spacing:-0.55px;word-spacing:1px">4 Feb 2021</div>
<div class="ax" style="left:763px;top:933px;letter-spacing:-0.55px;word-spacing:1px">14 Feb 2021</div>
<div class="ax" style="left:827px;top:933px;letter-spacing:-0.55px;word-spacing:1px">23 Feb 2021</div>
<div class="ax" style="left:891px;top:933px;letter-spacing:-0.55px;word-spacing:1px">4 Mar 2021</div>
<div class="ax" style="left:955px;top:933px;letter-spacing:-0.55px;word-spacing:1px">14 Mar 2021</div>
<div class="ax" style="left:1019px;top:933px;letter-spacing:-0.55px;word-spacing:1px">23 Mar 2021</div>
<div class="ax" style="left:1083px;top:933px;letter-spacing:-0.55px;word-spacing:1px">1 Apr 2021</div>
<div class="ax" style="left:1147px;top:933px;letter-spacing:-0.55px;word-spacing:1px">12 Apr 2021</div>
<div class="ax" style="left:1211px;top:933px;letter-spacing:-0.55px;word-spacing:1px">21 Apr 2021</div>
<div class="ax" style="left:1275px;top:933px;letter-spacing:-0.55px;word-spacing:1px">30 Apr 2021</div>
<div class="ax" style="left:1339px;top:933px;letter-spacing:-0.55px;word-spacing:1px">10 May 2021</div>
<div class="ax" style="left:1403px;top:933px;letter-spacing:-0.55px;word-spacing:1px">19 May 2021</div>
<div class="ax" style="left:1467px;top:933px;letter-spacing:-0.55px;word-spacing:1px">28 May 2021</div>
<svg class="abs" style="left:0;top:33px" width="8" height="6"><polygon points="0,5 3,1 6,5" fill="#000"/></svg>
<div class="ax" style="left:11px;top:30px;font-size:10px">USDJPY-,Daily&nbsp; 109.580 110.313 109.561 110.253</div>
<div class="ax" style="left:1px;top:586px">MACD(12,26,9) 0.2294 0.1288</div>
<div class="ax" style="left:1px;top:758px">RSI(14) 64.8976</div>
<div class="plab" style="top:48px;background:#ff0000">110.956</div>
<div class="plab" style="top:69px;background:#ff0000">110.613</div>
<div class="plab" style="top:92px;background:#000000"></div>
<div class="plab" style="top:95px;background:#32cd32">110.188</div>
<div class="plab" style="top:108px;background:#0000ff">109.976</div>
<div class="plab" style="top:127px;background:#0000ff">109.666</div>
<svg class="abs" style="left:1676px;top:40px" width="10" height="110" shape-rendering="crispEdges">
<rect x="2.5" y="12.5" width="4" height="4" fill="#fff" stroke="#ff0000"/>
<rect x="2.5" y="33.5" width="4" height="4" fill="#fff" stroke="#ff0000"/>
<rect x="2.5" y="59.5" width="4" height="4" fill="#fff" stroke="#32cd32"/>
<rect x="2.5" y="72.5" width="4" height="4" fill="#fff" stroke="#0000ff"/>
<rect x="2.5" y="91.5" width="4" height="4" fill="#fff" stroke="#0000ff"/>
</svg>
<svg class="abs" style="left:0;top:28px" width="1683" height="552" viewBox="0 28 1683 552">
<g shape-rendering="crispEdges">
<rect x="1245" y="101" width="8" height="1" fill="#ff0000"/><rect x="1252.5" y="99.5" width="3" height="4" fill="#fff" stroke="#ff0000"/>
<rect x="1459" y="101" width="10" height="1" fill="#ff0000"/>
<rect x="1218" y="270" width="7" height="1" fill="#ff0000"/>
<rect x="1435" y="201" width="9" height="1" fill="#ff0000"/><rect x="1435.5" y="199.5" width="3" height="4" fill="#fff" stroke="#ff0000"/>
<rect x="1476" y="100" width="119" height="5" fill="#00ff00"/>
</g>
</svg>
<svg class="abs" style="left:1005px;top:45px" width="62" height="19"><rect x="0.5" y="0.5" width="61" height="18" fill="#fff" stroke="#ff0000" shape-rendering="crispEdges"/><text x="31.0" y="15.4" font-family="Liberation Sans" font-size="16.5" fill="#ff0000" text-anchor="middle" textLength="57" lengthAdjust="spacingAndGlyphs">110.956</text></svg>
<svg class="abs" style="left:1255px;top:89px" width="74" height="25"><rect x="0.5" y="0.5" width="73" height="24" fill="#fff" stroke="#ff0000" shape-rendering="crispEdges"/><text x="37.0" y="20.4" font-family="Liberation Sans" font-size="22" fill="#ff0000" text-anchor="middle" textLength="69" lengthAdjust="spacingAndGlyphs">110.188</text></svg>
<svg class="abs" style="left:1397px;top:92px" width="62" height="19"><rect x="0.5" y="0.5" width="61" height="18" fill="#fff" stroke="#ff0000" shape-rendering="crispEdges"/><text x="31.0" y="15.4" font-family="Liberation Sans" font-size="16.5" fill="#ff0000" text-anchor="middle" textLength="57" lengthAdjust="spacingAndGlyphs">110.188</text></svg>
<svg class="abs" style="left:1157px;top:260px" width="62" height="19"><rect x="0.5" y="0.5" width="61" height="18" fill="#fff" stroke="#ff0000" shape-rendering="crispEdges"/><text x="31.0" y="15.4" font-family="Liberation Sans" font-size="16.5" fill="#ff0000" text-anchor="middle" textLength="57" lengthAdjust="spacingAndGlyphs">107.446</text></svg>
<svg class="abs" style="left:1373px;top:192px" width="62" height="19"><rect x="0.5" y="0.5" width="61" height="18" fill="#fff" stroke="#ff0000" shape-rendering="crispEdges"/><text x="31.0" y="15.4" font-family="Liberation Sans" font-size="16.5" fill="#ff0000" text-anchor="middle" textLength="57" lengthAdjust="spacingAndGlyphs">108.556</text></svg>
<svg class="abs" style="left:0;top:28px" width="1683" height="552" viewBox="0 28 1683 552" shape-rendering="crispEdges"><rect x="4" y="425" width="1" height="24" fill="#000"/><rect x="2" y="425" width="5" height="13" fill="#000"/><rect x="12" y="434" width="1" height="5" fill="#000"/><rect x="10" y="438" width="5" height="1" fill="#000"/><rect x="20" y="416" width="1" height="26" fill="#000"/><rect x="18" y="429" width="5" height="10" fill="#000"/><rect x="19" y="430" width="3" height="8" fill="#fff"/><rect x="28" y="429" width="1" height="30" fill="#000"/><rect x="26" y="429" width="5" height="20" fill="#000"/><rect x="36" y="446" width="1" height="29" fill="#000"/><rect x="34" y="447" width="5" height="16" fill="#000"/><rect x="44" y="436" width="1" height="45" fill="#000"/><rect x="42" y="446" width="5" height="17" fill="#000"/><rect x="43" y="447" width="3" height="15" fill="#fff"/><rect x="52" y="435" width="1" height="40" fill="#000"/><rect x="50" y="438" width="5" height="9" fill="#000"/><rect x="51" y="439" width="3" height="7" fill="#fff"/><rect x="60" y="438" width="1" height="10" fill="#000"/><rect x="58" y="442" width="5" height="5" fill="#000"/><rect x="68" y="422" width="1" height="24" fill="#000"/><rect x="66" y="436" width="5" height="9" fill="#000"/><rect x="67" y="437" width="3" height="7" fill="#fff"/><rect x="76" y="430" width="1" height="27" fill="#000"/><rect x="74" y="436" width="5" height="13" fill="#000"/><rect x="84" y="398" width="1" height="75" fill="#000"/><rect x="82" y="447" width="5" height="8" fill="#000"/><rect x="92" y="451" width="1" height="65" fill="#000"/><rect x="90" y="455" width="5" height="51" fill="#000"/><rect x="100" y="495" width="1" height="37" fill="#000"/><rect x="98" y="505" width="5" height="24" fill="#000"/><rect x="108" y="524" width="1" height="6" fill="#000"/><rect x="106" y="526" width="5" height="1" fill="#000"/><rect x="116" y="380" width="1" height="148" fill="#000"/><rect x="114" y="411" width="5" height="117" fill="#000"/><rect x="115" y="412" width="3" height="115" fill="#fff"/><rect x="124" y="389" width="1" height="43" fill="#000"/><rect x="122" y="403" width="5" height="9" fill="#000"/><rect x="123" y="404" width="3" height="7" fill="#fff"/><rect x="132" y="378" width="1" height="43" fill="#000"/><rect x="130" y="394" width="5" height="10" fill="#000"/><rect x="131" y="395" width="3" height="8" fill="#fff"/><rect x="140" y="390" width="1" height="27" fill="#000"/><rect x="138" y="394" width="5" height="21" fill="#000"/><rect x="148" y="410" width="1" height="38" fill="#000"/><rect x="146" y="412" width="5" height="32" fill="#000"/><rect x="156" y="438" width="1" height="5" fill="#000"/><rect x="154" y="439" width="5" height="4" fill="#000"/><rect x="155" y="440" width="3" height="2" fill="#fff"/><rect x="164" y="411" width="1" height="49" fill="#000"/><rect x="162" y="439" width="5" height="11" fill="#000"/><rect x="172" y="446" width="1" height="32" fill="#000"/><rect x="170" y="448" width="5" height="23" fill="#000"/><rect x="180" y="470" width="1" height="34" fill="#000"/><rect x="178" y="470" width="5" height="19" fill="#000"/><rect x="188" y="467" width="1" height="33" fill="#000"/><rect x="186" y="486" width="5" height="8" fill="#000"/><rect x="196" y="486" width="1" height="14" fill="#000"/><rect x="194" y="492" width="5" height="1" fill="#000"/><rect x="204" y="489" width="1" height="4" fill="#000"/><rect x="202" y="492" width="5" height="1" fill="#000"/><rect x="212" y="441" width="1" height="61" fill="#000"/><rect x="210" y="448" width="5" height="45" fill="#000"/><rect x="211" y="449" width="3" height="43" fill="#fff"/><rect x="220" y="434" width="1" height="39" fill="#000"/><rect x="218" y="449" width="5" height="1" fill="#000"/><rect x="228" y="444" width="1" height="22" fill="#000"/><rect x="226" y="449" width="5" height="9" fill="#000"/><rect x="236" y="456" width="1" height="13" fill="#000"/><rect x="234" y="456" width="5" height="11" fill="#000"/><rect x="244" y="463" width="1" height="25" fill="#000"/><rect x="242" y="464" width="5" height="16" fill="#000"/><rect x="252" y="470" width="1" height="10" fill="#000"/><rect x="250" y="475" width="5" height="5" fill="#000"/><rect x="251" y="476" width="3" height="3" fill="#fff"/><rect x="260" y="455" width="1" height="37" fill="#000"/><rect x="258" y="462" width="5" height="15" fill="#000"/><rect x="259" y="463" width="3" height="13" fill="#fff"/><rect x="268" y="445" width="1" height="26" fill="#000"/><rect x="266" y="463" width="5" height="1" fill="#000"/><rect x="276" y="434" width="1" height="34" fill="#000"/><rect x="274" y="453" width="5" height="11" fill="#000"/><rect x="275" y="454" width="3" height="9" fill="#fff"/><rect x="284" y="448" width="1" height="54" fill="#000"/><rect x="282" y="453" width="5" height="39" fill="#000"/><rect x="292" y="465" width="1" height="33" fill="#000"/><rect x="290" y="474" width="5" height="19" fill="#000"/><rect x="291" y="475" width="3" height="17" fill="#fff"/><rect x="300" y="466" width="1" height="6" fill="#000"/><rect x="298" y="468" width="5" height="1" fill="#000"/><rect x="308" y="461" width="1" height="26" fill="#000"/><rect x="306" y="468" width="5" height="14" fill="#000"/><rect x="316" y="468" width="1" height="17" fill="#000"/><rect x="314" y="472" width="5" height="8" fill="#000"/><rect x="315" y="473" width="3" height="6" fill="#fff"/><rect x="324" y="455" width="1" height="23" fill="#000"/><rect x="322" y="463" width="5" height="10" fill="#000"/><rect x="323" y="464" width="3" height="8" fill="#fff"/><rect x="332" y="445" width="1" height="27" fill="#000"/><rect x="330" y="463" width="5" height="8" fill="#000"/><rect x="340" y="470" width="1" height="23" fill="#000"/><rect x="338" y="470" width="5" height="12" fill="#000"/><rect x="348" y="479" width="1" height="8" fill="#000"/><rect x="346" y="482" width="5" height="4" fill="#000"/><rect x="347" y="483" width="3" height="2" fill="#fff"/><rect x="356" y="474" width="1" height="38" fill="#000"/><rect x="354" y="480" width="5" height="4" fill="#000"/><rect x="355" y="481" width="3" height="2" fill="#fff"/><rect x="364" y="471" width="1" height="35" fill="#000"/><rect x="362" y="480" width="5" height="24" fill="#000"/><rect x="372" y="485" width="1" height="42" fill="#000"/><rect x="370" y="502" width="5" height="12" fill="#000"/><rect x="380" y="507" width="1" height="44" fill="#000"/><rect x="378" y="512" width="5" height="22" fill="#000"/><rect x="388" y="505" width="1" height="31" fill="#000"/><rect x="386" y="523" width="5" height="11" fill="#000"/><rect x="387" y="524" width="3" height="9" fill="#fff"/><rect x="396" y="511" width="1" height="11" fill="#000"/><rect x="394" y="512" width="5" height="9" fill="#000"/><rect x="395" y="513" width="3" height="7" fill="#fff"/><rect x="404" y="487" width="1" height="41" fill="#000"/><rect x="402" y="512" width="5" height="11" fill="#000"/><rect x="412" y="497" width="1" height="29" fill="#000"/><rect x="410" y="510" width="5" height="12" fill="#000"/><rect x="411" y="511" width="3" height="10" fill="#fff"/><rect x="420" y="502" width="1" height="19" fill="#000"/><rect x="418" y="510" width="5" height="1" fill="#000"/><rect x="428" y="494" width="1" height="23" fill="#000"/><rect x="426" y="510" width="5" height="1" fill="#000"/><rect x="436" y="506" width="1" height="6" fill="#000"/><rect x="434" y="509" width="5" height="1" fill="#000"/><rect x="444" y="486" width="1" height="33" fill="#000"/><rect x="442" y="499" width="5" height="13" fill="#000"/><rect x="443" y="500" width="3" height="11" fill="#fff"/><rect x="452" y="492" width="1" height="23" fill="#000"/><rect x="450" y="499" width="5" height="11" fill="#000"/><rect x="460" y="507" width="1" height="39" fill="#000"/><rect x="458" y="507" width="5" height="29" fill="#000"/><rect x="468" y="522" width="1" height="21" fill="#000"/><rect x="466" y="528" width="5" height="8" fill="#000"/><rect x="467" y="529" width="3" height="6" fill="#fff"/><rect x="476" y="522" width="1" height="9" fill="#000"/><rect x="474" y="526" width="5" height="5" fill="#000"/><rect x="475" y="527" width="3" height="3" fill="#fff"/><rect x="484" y="525" width="1" height="36" fill="#000"/><rect x="482" y="526" width="5" height="9" fill="#000"/><rect x="492" y="530" width="1" height="37" fill="#000"/><rect x="490" y="533" width="5" height="29" fill="#000"/><rect x="500" y="514" width="1" height="53" fill="#000"/><rect x="498" y="540" width="5" height="22" fill="#000"/><rect x="499" y="541" width="3" height="20" fill="#fff"/><rect x="508" y="483" width="1" height="63" fill="#000"/><rect x="506" y="492" width="5" height="50" fill="#000"/><rect x="507" y="493" width="3" height="48" fill="#fff"/><rect x="516" y="475" width="1" height="31" fill="#000"/><rect x="514" y="487" width="5" height="6" fill="#000"/><rect x="515" y="488" width="3" height="4" fill="#fff"/><rect x="524" y="474" width="1" height="15" fill="#000"/><rect x="522" y="475" width="5" height="13" fill="#000"/><rect x="523" y="476" width="3" height="11" fill="#fff"/><rect x="532" y="456" width="1" height="24" fill="#000"/><rect x="530" y="472" width="5" height="4" fill="#000"/><rect x="531" y="473" width="3" height="2" fill="#fff"/><rect x="540" y="460" width="1" height="39" fill="#000"/><rect x="538" y="472" width="5" height="26" fill="#000"/><rect x="548" y="481" width="1" height="30" fill="#000"/><rect x="546" y="492" width="5" height="5" fill="#000"/><rect x="547" y="493" width="3" height="3" fill="#fff"/><rect x="556" y="468" width="1" height="41" fill="#000"/><rect x="554" y="490" width="5" height="1" fill="#000"/><rect x="564" y="487" width="1" height="19" fill="#000"/><rect x="562" y="490" width="5" height="1" fill="#000"/><rect x="572" y="485" width="1" height="9" fill="#000"/><rect x="570" y="485" width="5" height="8" fill="#000"/><rect x="571" y="486" width="3" height="6" fill="#fff"/><rect x="580" y="484" width="1" height="20" fill="#000"/><rect x="578" y="486" width="5" height="14" fill="#000"/><rect x="588" y="475" width="1" height="29" fill="#000"/><rect x="586" y="486" width="5" height="14" fill="#000"/><rect x="587" y="487" width="3" height="12" fill="#fff"/><rect x="596" y="485" width="1" height="31" fill="#000"/><rect x="594" y="486" width="5" height="23" fill="#000"/><rect x="604" y="501" width="1" height="22" fill="#000"/><rect x="602" y="508" width="5" height="4" fill="#000"/><rect x="612" y="487" width="1" height="26" fill="#000"/><rect x="610" y="490" width="5" height="22" fill="#000"/><rect x="611" y="491" width="3" height="20" fill="#fff"/><rect x="620" y="491" width="1" height="5" fill="#000"/><rect x="618" y="493" width="5" height="1" fill="#000"/><rect x="628" y="484" width="1" height="18" fill="#000"/><rect x="626" y="493" width="5" height="4" fill="#000"/><rect x="636" y="491" width="1" height="18" fill="#000"/><rect x="634" y="495" width="5" height="12" fill="#000"/><rect x="644" y="468" width="1" height="39" fill="#000"/><rect x="642" y="472" width="5" height="35" fill="#000"/><rect x="643" y="473" width="3" height="33" fill="#fff"/><rect x="652" y="452" width="1" height="22" fill="#000"/><rect x="650" y="462" width="5" height="12" fill="#000"/><rect x="651" y="463" width="3" height="10" fill="#fff"/><rect x="660" y="423" width="1" height="41" fill="#000"/><rect x="658" y="435" width="5" height="29" fill="#000"/><rect x="659" y="436" width="3" height="27" fill="#fff"/><rect x="668" y="432" width="1" height="9" fill="#000"/><rect x="666" y="432" width="5" height="6" fill="#000"/><rect x="676" y="417" width="1" height="28" fill="#000"/><rect x="674" y="426" width="5" height="13" fill="#000"/><rect x="675" y="427" width="3" height="11" fill="#fff"/><rect x="684" y="409" width="1" height="23" fill="#000"/><rect x="682" y="417" width="5" height="10" fill="#000"/><rect x="683" y="418" width="3" height="8" fill="#fff"/><rect x="692" y="413" width="1" height="13" fill="#000"/><rect x="690" y="419" width="5" height="1" fill="#000"/><rect x="700" y="382" width="1" height="41" fill="#000"/><rect x="698" y="384" width="5" height="36" fill="#000"/><rect x="699" y="385" width="3" height="34" fill="#fff"/><rect x="708" y="372" width="1" height="29" fill="#000"/><rect x="706" y="384" width="5" height="10" fill="#000"/><rect x="716" y="392" width="1" height="7" fill="#000"/><rect x="714" y="396" width="5" height="1" fill="#000"/><rect x="724" y="378" width="1" height="34" fill="#000"/><rect x="722" y="395" width="5" height="13" fill="#000"/><rect x="732" y="405" width="1" height="47" fill="#000"/><rect x="730" y="406" width="5" height="41" fill="#000"/><rect x="740" y="429" width="1" height="28" fill="#000"/><rect x="738" y="442" width="5" height="4" fill="#000"/><rect x="739" y="443" width="3" height="2" fill="#fff"/><rect x="748" y="431" width="1" height="17" fill="#000"/><rect x="746" y="434" width="5" height="10" fill="#000"/><rect x="747" y="435" width="3" height="8" fill="#fff"/><rect x="756" y="408" width="1" height="29" fill="#000"/><rect x="754" y="421" width="5" height="15" fill="#000"/><rect x="755" y="422" width="3" height="13" fill="#fff"/><rect x="764" y="414" width="1" height="11" fill="#000"/><rect x="762" y="415" width="5" height="9" fill="#000"/><rect x="763" y="416" width="3" height="7" fill="#fff"/><rect x="772" y="394" width="1" height="28" fill="#000"/><rect x="770" y="396" width="5" height="20" fill="#000"/><rect x="771" y="397" width="3" height="18" fill="#fff"/><rect x="780" y="344" width="1" height="66" fill="#000"/><rect x="778" y="351" width="5" height="46" fill="#000"/><rect x="779" y="352" width="3" height="44" fill="#fff"/><rect x="788" y="345" width="1" height="28" fill="#000"/><rect x="786" y="351" width="5" height="17" fill="#000"/><rect x="796" y="363" width="1" height="21" fill="#000"/><rect x="794" y="367" width="5" height="13" fill="#000"/><rect x="804" y="374" width="1" height="31" fill="#000"/><rect x="802" y="379" width="5" height="12" fill="#000"/><rect x="812" y="382" width="1" height="9" fill="#000"/><rect x="810" y="386" width="5" height="4" fill="#000"/><rect x="811" y="387" width="3" height="2" fill="#fff"/><rect x="820" y="367" width="1" height="58" fill="#000"/><rect x="818" y="386" width="5" height="35" fill="#000"/><rect x="828" y="393" width="1" height="32" fill="#000"/><rect x="826" y="401" width="5" height="20" fill="#000"/><rect x="827" y="402" width="3" height="18" fill="#fff"/><rect x="836" y="352" width="1" height="53" fill="#000"/><rect x="834" y="361" width="5" height="42" fill="#000"/><rect x="835" y="362" width="3" height="40" fill="#fff"/><rect x="844" y="334" width="1" height="35" fill="#000"/><rect x="842" y="334" width="5" height="28" fill="#000"/><rect x="843" y="335" width="3" height="26" fill="#fff"/><rect x="852" y="315" width="1" height="54" fill="#000"/><rect x="850" y="320" width="5" height="15" fill="#000"/><rect x="851" y="321" width="3" height="13" fill="#fff"/><rect x="860" y="322" width="1" height="9" fill="#000"/><rect x="858" y="326" width="5" height="4" fill="#000"/><rect x="868" y="305" width="1" height="33" fill="#000"/><rect x="866" y="306" width="5" height="24" fill="#000"/><rect x="867" y="307" width="3" height="22" fill="#fff"/><rect x="876" y="299" width="1" height="19" fill="#000"/><rect x="874" y="306" width="5" height="7" fill="#000"/><rect x="884" y="287" width="1" height="30" fill="#000"/><rect x="882" y="294" width="5" height="20" fill="#000"/><rect x="883" y="295" width="3" height="18" fill="#fff"/><rect x="892" y="235" width="1" height="66" fill="#000"/><rect x="890" y="239" width="5" height="56" fill="#000"/><rect x="891" y="240" width="3" height="54" fill="#fff"/><rect x="900" y="196" width="1" height="53" fill="#000"/><rect x="898" y="215" width="5" height="26" fill="#000"/><rect x="899" y="216" width="3" height="24" fill="#fff"/><rect x="908" y="207" width="1" height="9" fill="#000"/><rect x="906" y="212" width="5" height="4" fill="#000"/><rect x="907" y="213" width="3" height="2" fill="#fff"/><rect x="916" y="177" width="1" height="42" fill="#000"/><rect x="914" y="179" width="5" height="34" fill="#000"/><rect x="915" y="180" width="3" height="32" fill="#fff"/><rect x="924" y="160" width="1" height="52" fill="#000"/><rect x="922" y="179" width="5" height="23" fill="#000"/><rect x="932" y="179" width="1" height="38" fill="#000"/><rect x="930" y="200" width="5" height="10" fill="#000"/><rect x="940" y="186" width="1" height="30" fill="#000"/><rect x="938" y="201" width="5" height="8" fill="#000"/><rect x="939" y="202" width="3" height="6" fill="#fff"/><rect x="948" y="164" width="1" height="42" fill="#000"/><rect x="946" y="170" width="5" height="33" fill="#000"/><rect x="947" y="171" width="3" height="31" fill="#fff"/><rect x="956" y="166" width="1" height="6" fill="#000"/><rect x="954" y="167" width="5" height="4" fill="#000"/><rect x="955" y="168" width="3" height="2" fill="#fff"/><rect x="964" y="152" width="1" height="30" fill="#000"/><rect x="962" y="167" width="5" height="1" fill="#000"/><rect x="972" y="157" width="1" height="33" fill="#000"/><rect x="970" y="167" width="5" height="8" fill="#000"/><rect x="980" y="155" width="1" height="40" fill="#000"/><rect x="978" y="174" width="5" height="9" fill="#000"/><rect x="988" y="156" width="1" height="43" fill="#000"/><rect x="986" y="180" width="5" height="1" fill="#000"/><rect x="996" y="167" width="1" height="32" fill="#000"/><rect x="994" y="178" width="5" height="6" fill="#000"/><rect x="1004" y="179" width="1" height="6" fill="#000"/><rect x="1002" y="182" width="5" height="1" fill="#000"/><rect x="1012" y="177" width="1" height="23" fill="#000"/><rect x="1010" y="182" width="5" height="7" fill="#000"/><rect x="1020" y="182" width="1" height="31" fill="#000"/><rect x="1018" y="188" width="5" height="18" fill="#000"/><rect x="1028" y="177" width="1" height="32" fill="#000"/><rect x="1026" y="187" width="5" height="17" fill="#000"/><rect x="1027" y="188" width="3" height="15" fill="#fff"/><rect x="1036" y="160" width="1" height="28" fill="#000"/><rect x="1034" y="164" width="5" height="24" fill="#000"/><rect x="1035" y="165" width="3" height="22" fill="#fff"/><rect x="1044" y="123" width="1" height="42" fill="#000"/><rect x="1042" y="134" width="5" height="31" fill="#000"/><rect x="1043" y="135" width="3" height="29" fill="#fff"/><rect x="1052" y="125" width="1" height="6" fill="#000"/><rect x="1050" y="126" width="5" height="4" fill="#000"/><rect x="1051" y="127" width="3" height="2" fill="#fff"/><rect x="1060" y="120" width="1" height="34" fill="#000"/><rect x="1058" y="123" width="5" height="4" fill="#000"/><rect x="1059" y="124" width="3" height="2" fill="#fff"/><rect x="1068" y="87" width="1" height="41" fill="#000"/><rect x="1066" y="96" width="5" height="28" fill="#000"/><rect x="1067" y="97" width="3" height="26" fill="#fff"/><rect x="1076" y="54" width="1" height="45" fill="#000"/><rect x="1074" y="67" width="5" height="29" fill="#000"/><rect x="1075" y="68" width="3" height="27" fill="#fff"/><rect x="1084" y="62" width="1" height="20" fill="#000"/><rect x="1082" y="67" width="5" height="11" fill="#000"/><rect x="1092" y="67" width="1" height="7" fill="#000"/><rect x="1090" y="70" width="5" height="4" fill="#000"/><rect x="1100" y="70" width="1" height="48" fill="#000"/><rect x="1098" y="71" width="5" height="31" fill="#000"/><rect x="1108" y="80" width="1" height="55" fill="#000"/><rect x="1106" y="101" width="5" height="27" fill="#000"/><rect x="1116" y="118" width="1" height="23" fill="#000"/><rect x="1114" y="123" width="5" height="5" fill="#000"/><rect x="1115" y="124" width="3" height="3" fill="#fff"/><rect x="1124" y="119" width="1" height="58" fill="#000"/><rect x="1122" y="122" width="5" height="34" fill="#000"/><rect x="1132" y="116" width="1" height="47" fill="#000"/><rect x="1130" y="134" width="5" height="21" fill="#000"/><rect x="1131" y="135" width="3" height="19" fill="#fff"/><rect x="1140" y="128" width="1" height="6" fill="#000"/><rect x="1138" y="128" width="5" height="4" fill="#000"/><rect x="1148" y="127" width="1" height="34" fill="#000"/><rect x="1146" y="130" width="5" height="23" fill="#000"/><rect x="1156" y="128" width="1" height="55" fill="#000"/><rect x="1154" y="151" width="5" height="30" fill="#000"/><rect x="1164" y="169" width="1" height="23" fill="#000"/><rect x="1162" y="179" width="5" height="4" fill="#000"/><rect x="1172" y="177" width="1" height="23" fill="#000"/><rect x="1170" y="181" width="5" height="14" fill="#000"/><rect x="1180" y="177" width="1" height="23" fill="#000"/><rect x="1178" y="187" width="5" height="8" fill="#000"/><rect x="1179" y="188" width="3" height="6" fill="#fff"/><rect x="1188" y="188" width="1" height="9" fill="#000"/><rect x="1186" y="188" width="5" height="4" fill="#000"/><rect x="1196" y="189" width="1" height="48" fill="#000"/><rect x="1194" y="191" width="5" height="40" fill="#000"/><rect x="1204" y="202" width="1" height="37" fill="#000"/><rect x="1202" y="228" width="5" height="3" fill="#000"/><rect x="1203" y="229" width="3" height="1" fill="#fff"/><rect x="1212" y="218" width="1" height="27" fill="#000"/><rect x="1210" y="229" width="5" height="6" fill="#000"/><rect x="1220" y="221" width="1" height="28" fill="#000"/><rect x="1218" y="233" width="5" height="5" fill="#000"/><rect x="1228" y="227" width="1" height="43" fill="#000"/><rect x="1226" y="236" width="5" height="6" fill="#000"/><rect x="1236" y="242" width="1" height="3" fill="#000"/><rect x="1234" y="243" width="5" height="1" fill="#000"/><rect x="1244" y="223" width="1" height="36" fill="#000"/><rect x="1242" y="223" width="5" height="20" fill="#000"/><rect x="1243" y="224" width="3" height="18" fill="#fff"/><rect x="1252" y="188" width="1" height="44" fill="#000"/><rect x="1250" y="190" width="5" height="35" fill="#000"/><rect x="1251" y="191" width="3" height="33" fill="#fff"/><rect x="1260" y="170" width="1" height="35" fill="#000"/><rect x="1258" y="190" width="5" height="13" fill="#000"/><rect x="1268" y="161" width="1" height="49" fill="#000"/><rect x="1266" y="180" width="5" height="26" fill="#000"/><rect x="1267" y="181" width="3" height="24" fill="#fff"/><rect x="1276" y="154" width="1" height="40" fill="#000"/><rect x="1274" y="156" width="5" height="25" fill="#000"/><rect x="1275" y="157" width="3" height="23" fill="#fff"/><rect x="1284" y="154" width="1" height="5" fill="#000"/><rect x="1282" y="156" width="5" height="1" fill="#000"/><rect x="1292" y="132" width="1" height="51" fill="#000"/><rect x="1290" y="157" width="5" height="14" fill="#000"/><rect x="1300" y="150" width="1" height="24" fill="#000"/><rect x="1298" y="155" width="5" height="15" fill="#000"/><rect x="1299" y="156" width="3" height="13" fill="#fff"/><rect x="1308" y="145" width="1" height="23" fill="#000"/><rect x="1306" y="155" width="5" height="7" fill="#000"/><rect x="1316" y="148" width="1" height="29" fill="#000"/><rect x="1314" y="161" width="5" height="13" fill="#000"/><rect x="1324" y="157" width="1" height="60" fill="#000"/><rect x="1322" y="171" width="5" height="29" fill="#000"/><rect x="1332" y="200" width="1" height="8" fill="#000"/><rect x="1330" y="201" width="5" height="1" fill="#000"/><rect x="1340" y="171" width="1" height="32" fill="#000"/><rect x="1338" y="184" width="5" height="19" fill="#000"/><rect x="1339" y="185" width="3" height="17" fill="#fff"/><rect x="1348" y="177" width="1" height="39" fill="#000"/><rect x="1346" y="184" width="5" height="9" fill="#000"/><rect x="1356" y="131" width="1" height="66" fill="#000"/><rect x="1354" y="134" width="5" height="59" fill="#000"/><rect x="1355" y="135" width="3" height="57" fill="#fff"/><rect x="1364" y="126" width="1" height="26" fill="#000"/><rect x="1362" y="134" width="5" height="10" fill="#000"/><rect x="1372" y="133" width="1" height="32" fill="#000"/><rect x="1370" y="143" width="5" height="12" fill="#000"/><rect x="1380" y="151" width="1" height="3" fill="#000"/><rect x="1378" y="151" width="5" height="1" fill="#000"/><rect x="1388" y="145" width="1" height="27" fill="#000"/><rect x="1386" y="148" width="5" height="13" fill="#000"/><rect x="1396" y="157" width="1" height="30" fill="#000"/><rect x="1394" y="159" width="5" height="26" fill="#000"/><rect x="1404" y="158" width="1" height="43" fill="#000"/><rect x="1402" y="158" width="5" height="27" fill="#000"/><rect x="1403" y="159" width="3" height="25" fill="#fff"/><rect x="1412" y="156" width="1" height="36" fill="#000"/><rect x="1410" y="158" width="5" height="27" fill="#000"/><rect x="1420" y="174" width="1" height="26" fill="#000"/><rect x="1418" y="179" width="5" height="6" fill="#000"/><rect x="1419" y="180" width="3" height="4" fill="#fff"/><rect x="1428" y="178" width="1" height="4" fill="#000"/><rect x="1426" y="178" width="5" height="4" fill="#000"/><rect x="1436" y="175" width="1" height="20" fill="#000"/><rect x="1434" y="180" width="5" height="5" fill="#000"/><rect x="1444" y="170" width="1" height="32" fill="#000"/><rect x="1442" y="176" width="5" height="11" fill="#000"/><rect x="1452" y="164" width="1" height="29" fill="#000"/><rect x="1450" y="164" width="5" height="24" fill="#000"/><rect x="1451" y="165" width="3" height="22" fill="#fff"/><rect x="1460" y="118" width="1" height="56" fill="#000"/><rect x="1458" y="125" width="5" height="40" fill="#000"/><rect x="1459" y="126" width="3" height="38" fill="#fff"/><rect x="1468" y="101" width="1" height="25" fill="#000"/><rect x="1466" y="118" width="5" height="8" fill="#000"/><rect x="1467" y="119" width="3" height="6" fill="#fff"/><rect x="1476" y="115" width="1" height="11" fill="#000"/><rect x="1474" y="120" width="5" height="3" fill="#000"/><rect x="1475" y="121" width="3" height="1" fill="#fff"/><rect x="1484" y="117" width="1" height="38" fill="#000"/><rect x="1482" y="119" width="5" height="27" fill="#000"/><rect x="1492" y="131" width="1" height="25" fill="#000"/><rect x="1490" y="140" width="5" height="6" fill="#000"/><rect x="1500" y="120" width="1" height="25" fill="#000"/><rect x="1498" y="138" width="5" height="7" fill="#000"/><rect x="1499" y="139" width="3" height="5" fill="#fff"/><rect x="1508" y="94" width="1" height="47" fill="#000"/><rect x="1506" y="97" width="5" height="43" fill="#000"/><rect x="1507" y="98" width="3" height="41" fill="#fff"/></svg>
<svg class="abs" style="left:0;top:28px" width="1683" height="552" viewBox="0 28 1683 552">
<line x1="1224" y1="272.5" x2="1291.2" y2="148.3" stroke="#ff0000" stroke-width="3.6"/><polygon points="1296,139.5 1295.1,152.7 1285.5,147.4" fill="#ff0000"/>
<line x1="1296" y1="139.5" x2="1336.4" y2="198.7" stroke="#ff0000" stroke-width="3.6"/><polygon points="1342,207 1330.7,200.2 1339.8,194.0" fill="#ff0000"/>
<line x1="1342" y1="207" x2="1366.2" y2="137.9" stroke="#ff0000" stroke-width="3.6"/><polygon points="1369.5,128.5 1370.7,141.6 1360.3,138.0" fill="#ff0000"/>
<line x1="1369.5" y1="128.5" x2="1439.1" y2="181.9" stroke="#ff0000" stroke-width="3.6"/><polygon points="1447,188 1434.1,185.1 1440.8,176.3" fill="#ff0000"/>
<line x1="1447" y1="188" x2="1470.3" y2="119.0" stroke="#ff0000" stroke-width="3.6"/><polygon points="1473.5,109.5 1474.9,122.6 1464.5,119.1" fill="#ff0000"/>
<line x1="1473.5" y1="109.5" x2="1495.5" y2="142.7" stroke="#ff0000" stroke-width="3.6"/><polygon points="1501,151 1489.8,144.0 1499.0,138.0" fill="#ff0000"/>
<line x1="1501" y1="151" x2="1568.9" y2="73.5" stroke="#ff0000" stroke-width="3.6"/><polygon points="1575.5,66 1571.7,78.6 1563.5,71.4" fill="#ff0000"/>
</svg>
<div class="abs" style="left:1526px;top:155px;font-size:20px;color:#00ff00;letter-spacing:1.7px;white-space:nowrap">多空转折点</div>
<svg class="abs" style="left:1506px;top:28px" width="14" height="6"><polygon points="1,0 13,0 7,6" fill="#a0a0a0"/></svg>
<svg class="abs" style="left:0;top:583px" width="1683" height="169" viewBox="0 583 1683 169"><line x1="1274" y1="706.5" x2="1510.0" y2="686.4" stroke="#ff0000" stroke-width="3.2"/><polygon points="1520,685.5 1508.5,692.0 1507.6,681.0" fill="#ff0000"/></svg>
<svg class="abs" style="left:0;top:755px" width="1683" height="173" viewBox="0 755 1683 173"><line x1="1319" y1="846.5" x2="1500.1" y2="825.6" stroke="#ff0000" stroke-width="3.2"/><polygon points="1510,824.5 1498.8,831.8 1497.4,819.9" fill="#ff0000"/></svg>
<div class="abs" style="left:0;top:46px;width:220px;height:59px;background:#fff"></div>
<div class="abs" style="left:0;top:47px;width:51px;height:25px;background:linear-gradient(#5a5aff,#3434e6);border-top:1px solid #1a1ab0"></div>
<div class="abs" style="left:3px;top:70px;width:44px;height:1px;background:#1a1aa0"></div><div class="abs" style="left:3px;top:71px;width:44px;height:1px;background:#7070ff"></div>
<div class="abs" style="left:166px;top:47px;width:52px;height:25px;background:linear-gradient(#5a5aff,#3434e6);border-top:1px solid #1a1ab0"></div>
<div class="abs" style="left:170px;top:70px;width:44px;height:1px;background:#1a1aa0"></div><div class="abs" style="left:170px;top:71px;width:44px;height:1px;background:#7070ff"></div>
<div class="abs" style="left:0;top:72px;width:108px;height:32px;background:linear-gradient(#3232e4,#0000a8)"></div>
<div class="abs" style="left:110px;top:72px;width:108px;height:32px;background:linear-gradient(#3232e4,#0000a8)"></div>
<div class="abs" style="left:51px;top:47px;width:115px;height:25px;background:#fff;border:1px solid #c8c8c8"></div>
<div class="abs" style="left:53px;top:48px;width:21px;height:21px;background:linear-gradient(#f4f4f4,#d8d8d8);border:1px solid #b8b8b8"></div><div class="abs" style="left:60px;top:57px;width:0;height:0;border-left:3px solid transparent;border-right:3px solid transparent;border-top:3px solid #4a6aa8"></div>
<div class="abs" style="left:143px;top:48px;width:21px;height:21px;background:linear-gradient(#f4f4f4,#d8d8d8);border:1px solid #b8b8b8"></div><div class="abs" style="left:150px;top:56px;width:0;height:0;border-left:3px solid transparent;border-right:3px solid transparent;border-bottom:3px solid #4a6aa8"></div>
<div class="abs" style="left:75px;top:51px;width:64px;text-align:right;font-size:13px;color:#000;letter-spacing:-0.3px">1.00</div>
<div class="abs" style="left:11px;top:52px;font-size:12px;color:#e8e8ff;letter-spacing:-0.9px">SELL</div>
<div class="abs" style="left:179px;top:52px;font-size:12px;color:#e8e8ff;letter-spacing:-0.6px">BUY</div>
<div class="abs" style="left:22px;top:87px;font-size:12px;font-weight:bold;color:#fff;letter-spacing:0px">110</div>
<div class="abs" style="left:46px;top:68px;font-size:34px;color:#fff;letter-spacing:-1px">25</div>
<div class="abs" style="left:86px;top:72px;font-size:11px;font-weight:bold;color:#fff">3</div>
<div class="abs" style="left:132px;top:87px;font-size:12px;font-weight:bold;color:#fff;letter-spacing:0px">110</div>
<div class="abs" style="left:156px;top:68px;font-size:34px;color:#fff;letter-spacing:-1px">32</div>
<div class="abs" style="left:198px;top:72px;font-size:11px;font-weight:bold;color:#fff">1</div>
</body></html>
